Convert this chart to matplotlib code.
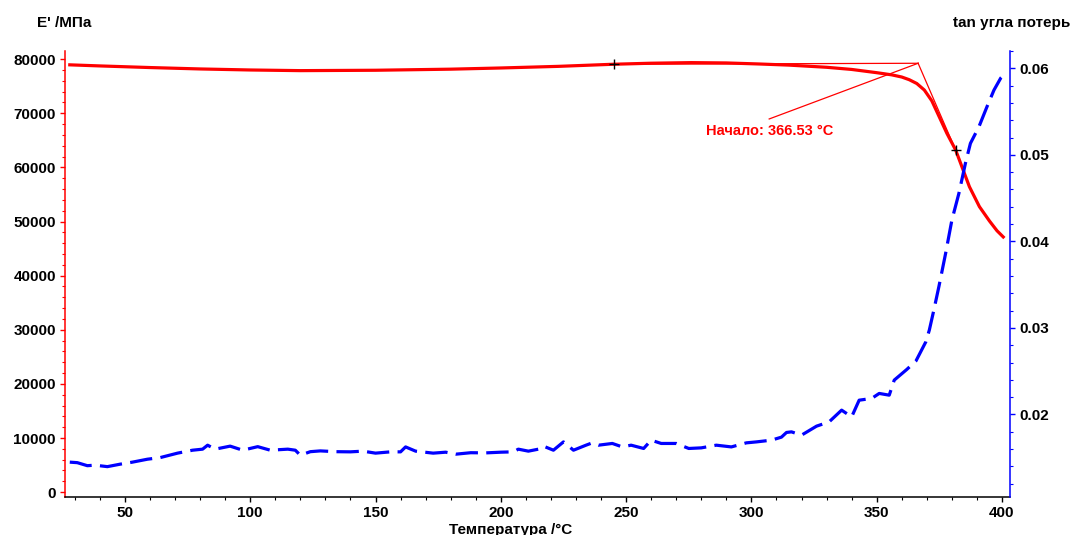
import matplotlib
matplotlib.use('Agg')
import matplotlib.pyplot as plt
from matplotlib.ticker import MultipleLocator

plt.rcParams['font.family'] = ['Liberation Sans', 'DejaVu Sans']
plt.rcParams['font.weight'] = 'bold'

# storage modulus E' (MPa) vs temperature
tempE = [28, 40, 60, 80, 100, 120, 150, 180, 200, 223, 245, 260, 276, 290,
         303, 315, 330, 340, 350, 356, 360, 363, 366, 369, 372, 375, 378,
         381.5, 384, 387, 391, 395, 398, 400.5]
modE = [78950, 78750, 78450, 78190, 78000, 77880, 77950, 78150, 78370, 78670,
        79060, 79250, 79360, 79300, 79110, 78900, 78500, 78100, 77500, 77100,
        76700, 76200, 75500, 74300, 72300, 69300, 66300, 63220, 60130, 56430,
        52740, 50100, 48300, 47150]

# loss tangent vs temperature
tempT = [28, 31, 35, 38, 43, 48, 53, 59, 64, 71, 77, 81, 83, 86, 92, 97, 103,
         108, 115, 118, 120, 124, 128, 134, 140, 145, 150, 156, 160, 162, 166,
         173, 178, 182, 188, 194, 200, 205, 207, 211, 215, 217, 221, 225, 229,
         234, 236.5, 239, 244.5, 248.5, 252, 257, 260, 264, 270, 275, 280, 286,
         292, 298, 302, 308, 312, 314, 316, 320, 326, 331, 336, 340, 343, 348,
         351, 355, 357, 362, 365.7, 369.6, 371, 372.8, 374.8, 377.5, 380,
         382.8, 385.4, 387.4, 390.8, 394, 396.8, 399.5, 400.3]
tanD = [0.01449, 0.01443, 0.01408, 0.01414, 0.01397, 0.01425, 0.01449, 0.01483,
        0.01501, 0.01553, 0.01587, 0.01599, 0.01645, 0.01599, 0.01634, 0.01587,
        0.01628, 0.01587, 0.01599, 0.01587, 0.01529, 0.01570, 0.01579, 0.01570,
        0.01568, 0.01576, 0.01553, 0.01568, 0.01568, 0.01625, 0.01576, 0.01553,
        0.01564, 0.01541, 0.01558, 0.01556, 0.01564, 0.01568, 0.01599, 0.01576,
        0.01599, 0.01634, 0.01587, 0.01683, 0.01587, 0.01645, 0.01672, 0.01645,
        0.01665, 0.01625, 0.01645, 0.01607, 0.01703, 0.01665, 0.01665, 0.01607,
        0.01614, 0.01645, 0.01625, 0.01672, 0.01683, 0.01703, 0.01738, 0.01792,
        0.01799, 0.01761, 0.01865, 0.01914, 0.02050, 0.01972, 0.02165, 0.02185,
        0.02243, 0.02223, 0.02397, 0.02520, 0.02620, 0.02839, 0.02975, 0.03206,
        0.03475, 0.03861, 0.04246, 0.04555, 0.04902, 0.05133, 0.05325, 0.05556,
        0.05749, 0.05888, 0.05911]

# onset construction
onsetT = 366.53
onsetE = 79240
baseT, baseE = 245.3, 79060       # start of baseline tangent
inflT, inflE = 381.5, 63220       # inflection point
labelT, labelE = 307.1, 68950     # where leader meets the label
onsetLabel = 'Начало: 366.53 °C'

fig = plt.figure(figsize=(10.73, 5.35), dpi=100)
ax = fig.add_axes([0.0606, 0.0710, 0.8807, 0.8336])
ax2 = ax.twinx()

ax.plot(tempE, modE, color='red', lw=2.3, zorder=3)
ax.plot([baseT, onsetT], [baseE, onsetE], color='red', lw=0.9)
ax.plot([onsetT, inflT], [onsetE, inflE], color='red', lw=0.9)
ax.plot([labelT, onsetT], [labelE, onsetE], color='red', lw=0.9)
ax.plot([baseT, inflT], [baseE, inflE], ls='none', marker='+', color='black',
        ms=7, mew=1, zorder=5)
ax.text(labelT, labelE - 1000, onsetLabel, color='red', fontsize=10.5,
        fontweight='bold', ha='center', va='top')

ax2.plot(tempT, tanD, color='blue', lw=2.3, dashes=(7, 2.6))

ax.set_xlim(26.1, 403.2)
ax.set_ylim(-900, 81500)
ax2.set_ylim(0.01046, 0.062)

ax.xaxis.set_major_locator(MultipleLocator(50))
ax.xaxis.set_minor_locator(MultipleLocator(10))
ax.yaxis.set_major_locator(MultipleLocator(10000))
ax.yaxis.set_minor_locator(MultipleLocator(2000))
ax2.yaxis.set_major_locator(MultipleLocator(0.01))
ax2.yaxis.set_minor_locator(MultipleLocator(0.002))
ax2.yaxis.set_major_formatter(plt.FormatStrFormatter('%.2f'))

for a in (ax, ax2):
    for s in a.spines.values():
        s.set_visible(False)
ax.spines['left'].set_visible(True)
ax.spines['left'].set_color('red')
ax.spines['bottom'].set_visible(True)
ax.spines['bottom'].set_color('black')
ax2.spines['right'].set_visible(True)
ax2.spines['right'].set_color('blue')
for s in ('left', 'bottom'):
    ax.spines[s].set_linewidth(1.1)
ax2.spines['right'].set_linewidth(1.1)

ax.tick_params(axis='y', which='both', colors='red', labelcolor='black',
               labelsize=11, direction='out')
ax.tick_params(axis='x', which='both', colors='black', labelsize=11,
               direction='out')
ax.tick_params(which='major', length=3.5, width=1, pad=3)
ax.tick_params(which='minor', length=2, width=0.8)
ax2.tick_params(axis='y', which='both', colors='blue', labelcolor='black',
                labelsize=11, direction='out')
ax2.tick_params(which='major', length=3.5, width=1, pad=3)
ax2.tick_params(which='minor', length=2, width=0.8)
for lab in ax.get_xticklabels() + ax.get_yticklabels() + ax2.get_yticklabels():
    lab.set_fontweight('bold')

fig.text(37/1073, 1 - 23/535, "E' /МПа", fontsize=11, fontweight='bold',
         ha='left', va='center')
fig.text(1070/1073, 1 - 23/535, 'tan угла потерь', fontsize=11,
         fontweight='bold', ha='right', va='center')
fig.text(511/1073, 1 - 530/535, 'Температура /°C', fontsize=11,
         fontweight='bold', ha='center', va='center')

fig.savefig('out.png', dpi=100)
